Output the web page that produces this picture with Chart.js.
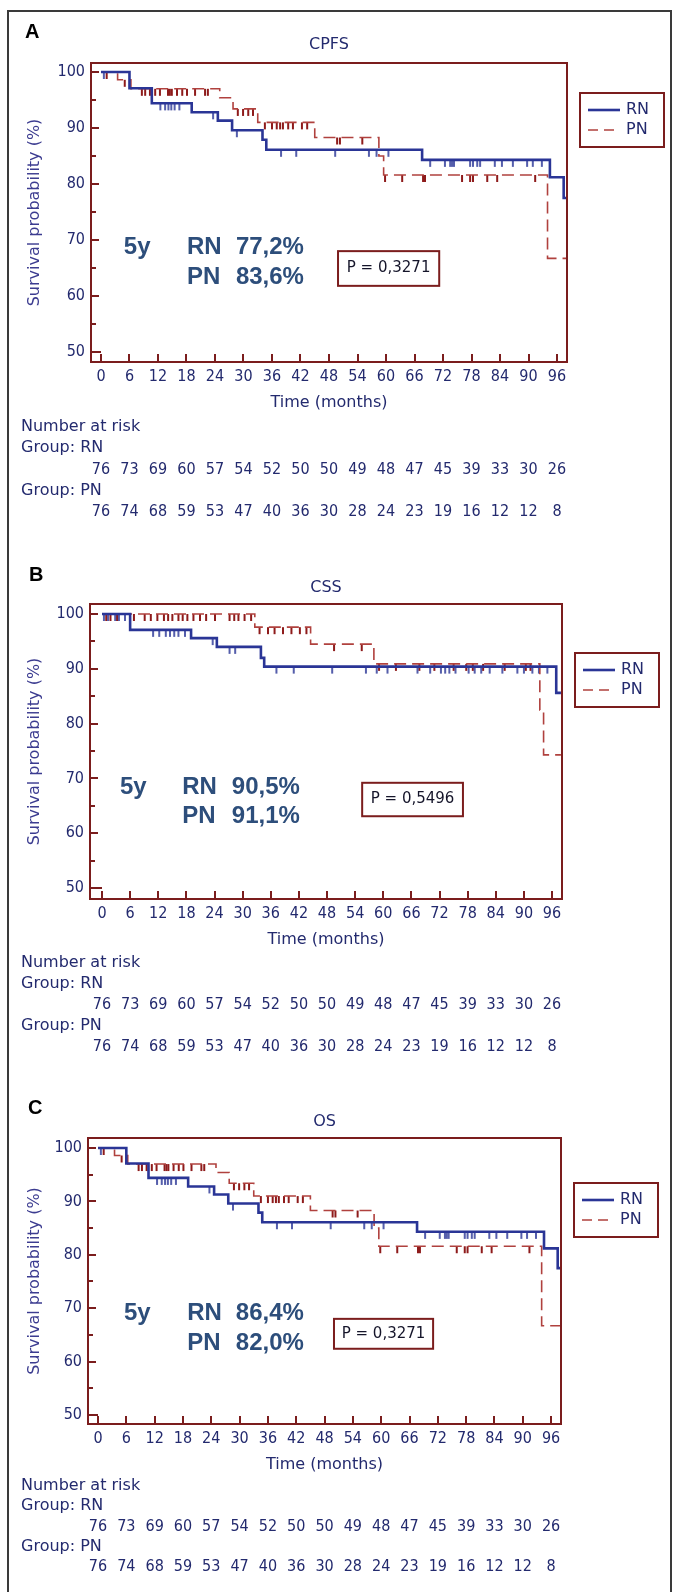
<!DOCTYPE html>
<html>
<head>
<meta charset="utf-8">
<script src="https://cdn.jsdelivr.net/npm/chart.js@4.4.1/dist/chart.umd.min.js"></script>
<style>
  html, body { margin: 0; padding: 0; background: #fff; }
  body { width: 673px; height: 1592px; position: relative; overflow: hidden; }
  #frame { position: absolute; left: 7px; top: 10px; width: 665px; height: 1620px; border: 2px solid #3a3a3a; box-sizing: border-box; }
  canvas { position: absolute; left: 0; }
</style>
</head>
<body>
<div id="frame"></div>
<canvas id="chartA" width="673" height="540" style="top:0px"></canvas>
<canvas id="chartB" width="673" height="535" style="top:540px"></canvas>
<canvas id="chartC" width="673" height="517" style="top:1075px"></canvas>
<script>
// axis ticks
const monthTicks = [0, 6, 12, 18, 24, 30, 36, 42, 48, 54, 60, 66, 72, 78, 84, 90, 96];
const pctTicks = [50, 60, 70, 80, 90, 100];
const pctMinor = [55, 65, 75, 85, 95];

// number at risk (same table under every panel)
const riskRn = [76, 73, 69, 60, 57, 54, 52, 50, 50, 49, 48, 47, 45, 39, 33, 30, 26];
const riskPn = [76, 74, 68, 59, 53, 47, 40, 36, 30, 28, 24, 23, 19, 16, 12, 12, 8];

// CPFS: step times (months) and survival after each step, censored times
const cpfsRnTime = [0, 6, 10.7, 19.1, 24.6, 27.6, 34.0, 34.8, 67.6, 94.5, 97.4, 97.9];
const cpfsRnSurv = [100, 97.1, 94.4, 92.8, 91.3, 89.6, 87.9, 86.1, 84.3, 81.2, 77.5, 77.5];
const cpfsRnCens = [0.6, 12.5, 13.5, 14.2, 14.8, 15.5, 16.5, 23.6, 28.6, 37.9, 41.1, 49.3, 56.4, 58.0, 60.5,
  69.3, 72.4, 73.5, 73.9, 74.3, 77.7, 78.3, 79.2, 79.8, 82.9, 84.4, 86.7, 89.7, 90.9, 92.8];
const cpfsPnTime = [0, 3.5, 6.3, 25.0, 27.8, 33.0, 45.0, 58.5, 59.5, 94.0, 97.9];
const cpfsPnSurv = [100, 98.6, 97.0, 95.4, 93.4, 91.0, 88.3, 85.0, 81.6, 66.7, 66.7];
const cpfsPnCens = [1.2, 5.0, 8.6, 9.3, 10.3, 11.4, 12.4, 14.1, 14.5, 14.9, 16.0, 17.1, 18.1, 19.8, 21.9, 22.5,
  28.8, 29.9, 31.0, 32.0, 34.5, 36.0, 37.0, 37.7, 38.3, 39.4, 40.4, 42.3, 43.4, 49.7, 50.3, 55.0,
  59.8, 63.4, 67.8, 68.2, 76.0, 77.7, 78.3, 81.3, 83.4, 91.4];

// CSS
const cssRnTime = [0, 6, 19, 24.5, 33.9, 34.6, 96.9, 97.9];
const cssRnSurv = [100, 97.1, 95.6, 94.0, 92.0, 90.4, 85.6, 85.6];
const cssRnCens = [0.4, 1.3, 2.8, 3.6, 4.9, 10.9, 12.2, 13.6, 14.5, 15.4, 16.3, 17.7, 23.6, 27.2, 28.4,
  37.2, 40.9, 49.1, 56.3, 58.6, 60.9, 67.3, 70.0, 72.3, 73.2, 74.1, 75.4, 78.2, 79.5, 80.9, 82.7,
  85.4, 88.6, 90.0, 91.8, 93.2, 95.0];
const cssPnTime = [0, 32.6, 44.5, 58, 93.4, 94.2, 97.9];
const cssPnSurv = [100, 97.6, 94.5, 90.9, 82.5, 74.3, 74.3];
const cssPnCens = [0.9, 1.8, 3.2, 6.8, 9.1, 10.4, 11.8, 13.2, 14.1, 15.0, 16.3, 17.2, 18.2, 19.5, 20.9, 22.2,
  24.1, 27.2, 28.2, 29.1, 30.4, 31.8, 33.6, 35.4, 36.8, 38.6, 40.4, 42.2, 43.6, 49.5, 55.4,
  59.1, 62.7, 67.7, 70.9, 75.0, 77.7, 79.1, 81.3, 85.9, 90.4, 91.4];

// OS curves look the same as CPFS in the source figure
const osRnTime = cpfsRnTime, osRnSurv = cpfsRnSurv, osRnCens = cpfsRnCens;
const osPnTime = cpfsPnTime, osPnSurv = cpfsPnSurv, osPnCens = cpfsPnCens;

const FONT = "'DejaVu Sans', sans-serif";
const NUM_FONT = "'DejaVu Sans Condensed', 'DejaVu Sans', sans-serif";
const BLUE = '#2a3596';
const PN_RED = '#b0413e';
const CENS_RED = '#8e1b1b';
const FRAME = '#7b1d1d';
const NAVY = '#232a6e';
const FIVE = '#2d4e7b';

const panels = [
  { id: 'chartA', letter: 'A', title: 'CPFS', pText: 'P = 0,3271', rn5: '77,2%', pn5: '83,6%',
    area: {left: 91, right: 567, top: 63, bottom: 362}, xMin: -2.1, xMax: 98.1, yMin: 48.2, yMax: 101.6,
    letterPos: [25, 32], titleGap: 18, legendTop: 30, riskTop: 65, riskGap: 21.2,
    fiveY: {c0: 4.8, c1: 18.1, c2: 28.4, r1: 68.6, r2: 63.4}, pBox: {x0: 49.9, x1: 71.2, y0: 68.0, y1: 61.8},
    rn: [cpfsRnTime, cpfsRnSurv, cpfsRnCens], pn: [cpfsPnTime, cpfsPnSurv, cpfsPnCens] },
  { id: 'chartB', letter: 'B', title: 'CSS', pText: 'P = 0,5496', rn5: '90,5%', pn5: '91,1%',
    area: {left: 90, right: 562, top: 64, bottom: 359}, xMin: -2.56, xMax: 98.13, yMin: 48.0, yMax: 101.82,
    letterPos: [29, 35], titleGap: 16, legendTop: 49, riskTop: 64, riskGap: 21,
    fiveY: {c0: 3.84, c1: 17.1, c2: 27.7, r1: 68.4, r2: 63.0}, pBox: {x0: 55.5, x1: 77.0, y0: 69.2, y1: 63.1},
    rn: [cssRnTime, cssRnSurv, cssRnCens], pn: [cssPnTime, cssPnSurv, cssPnCens] },
  { id: 'chartC', letter: 'C', title: 'OS', pText: 'P = 0,3271', rn5: '86,4%', pn5: '82,0%',
    area: {left: 88, right: 561, top: 63, bottom: 349}, xMin: -2.12, xMax: 98.1, yMin: 48.31, yMax: 101.87,
    letterPos: [28, 33], titleGap: 16, legendTop: 45, riskTop: 62, riskGap: 20.2,
    fiveY: {c0: 5.5, c1: 18.9, c2: 29.2, r1: 69.1, r2: 63.5}, pBox: {x0: 50.0, x1: 71.0, y0: 68.0, y1: 62.4},
    rn: [osRnTime, osRnSurv, osRnCens], pn: [osPnTime, osPnSurv, osPnCens] }
];

function survAt(times, surv, t) {
  let s = surv[0];
  times.forEach((tt, i) => { if (tt <= t) s = surv[i]; });
  return s;
}
const stepPoints = (times, surv) => times.map((t, i) => ({x: t, y: surv[i]}));
const censPoints = (cens, times, surv) => cens.map(t => ({x: t, y: survAt(times, surv, t)}));

// censor mark: short vertical tick hanging below the curve
function tickMark(color, w) {
  const c = document.createElement('canvas');
  c.width = 4; c.height = 16;
  const g = c.getContext('2d');
  g.strokeStyle = color; g.lineWidth = w;
  g.beginPath(); g.moveTo(2, 8); g.lineTo(2, 15); g.stroke();
  return c;
}

function line(ctx, x0, y0, x1, y1) {
  ctx.beginPath(); ctx.moveTo(x0, y0); ctx.lineTo(x1, y1); ctx.stroke();
}

function panelPlugin(p) {
  return {
    id: 'panel' + p.letter,
    afterDraw(chart) {
      const {ctx, chartArea: a, scales: {x, y}} = chart;
      ctx.save();
      // inward ticks
      ctx.strokeStyle = FRAME; ctx.lineWidth = 2;
      monthTicks.forEach(t => {
        const px = Math.round(x.getPixelForValue(t));
        line(ctx, px, a.bottom, px, a.bottom - 8);
      });
      pctTicks.forEach(v => {
        const py = Math.round(y.getPixelForValue(v));
        const len = v === 50 ? x.getPixelForValue(0) - a.left : 8;
        line(ctx, a.left, py, a.left + len, py);
      });
      pctMinor.forEach(v => {
        const py = Math.round(y.getPixelForValue(v));
        line(ctx, a.left, py, a.left + 5, py);
      });
      ctx.strokeRect(a.left, a.top, a.right - a.left, a.bottom - a.top);

      // panel letter + title
      ctx.fillStyle = '#000';
      ctx.font = "bold 20px 'Liberation Sans', Arial, sans-serif";
      ctx.textBaseline = 'middle'; ctx.textAlign = 'left';
      ctx.fillText(p.letter, p.letterPos[0], p.letterPos[1]);
      ctx.fillStyle = NAVY;
      ctx.font = '16px ' + FONT;
      ctx.textAlign = 'center';
      ctx.fillText(p.title, (a.left + a.right) / 2, a.top - p.titleGap);

      // legend box
      const lx = a.right + 13, ly = a.top + p.legendTop;
      ctx.strokeStyle = FRAME; ctx.lineWidth = 2;
      ctx.strokeRect(lx, ly, 84, 54);
      ctx.strokeStyle = BLUE; ctx.lineWidth = 2.6;
      line(ctx, lx + 8, ly + 17, lx + 40, ly + 17);
      ctx.strokeStyle = PN_RED; ctx.lineWidth = 1.6; ctx.setLineDash([10, 6]);
      line(ctx, lx + 8, ly + 37, lx + 40, ly + 37);
      ctx.setLineDash([]);
      ctx.fillStyle = NAVY; ctx.font = '16px ' + FONT; ctx.textAlign = 'left';
      ctx.fillText('RN', lx + 46, ly + 17);
      ctx.fillText('PN', lx + 46, ly + 37);

      // 5-year estimates
      const f = p.fiveY;
      ctx.fillStyle = FIVE;
      ctx.font = "bold 24px 'Liberation Sans', Arial, sans-serif";
      const r1 = y.getPixelForValue(f.r1), r2 = y.getPixelForValue(f.r2);
      ctx.fillText('5y', x.getPixelForValue(f.c0), r1);
      ctx.fillText('RN', x.getPixelForValue(f.c1), r1);
      ctx.fillText(p.rn5, x.getPixelForValue(f.c2), r1);
      ctx.fillText('PN', x.getPixelForValue(f.c1), r2);
      ctx.fillText(p.pn5, x.getPixelForValue(f.c2), r2);

      // p-value box
      const bx0 = x.getPixelForValue(p.pBox.x0), bx1 = x.getPixelForValue(p.pBox.x1);
      const by0 = y.getPixelForValue(p.pBox.y0), by1 = y.getPixelForValue(p.pBox.y1);
      ctx.strokeStyle = FRAME; ctx.lineWidth = 2;
      ctx.strokeRect(bx0, by0, bx1 - bx0, by1 - by0);
      ctx.fillStyle = '#15152a'; ctx.font = '15px ' + FONT; ctx.textAlign = 'center';
      ctx.fillText(p.pText, (bx0 + bx1) / 2, (by0 + by1) / 2);

      // number at risk table
      const rowY = k => a.bottom + p.riskTop + k * p.riskGap;
      ctx.fillStyle = NAVY; ctx.textAlign = 'left'; ctx.font = '16px ' + FONT;
      ctx.fillText('Number at risk', 21, rowY(0));
      ctx.fillText('Group: RN', 21, rowY(1));
      ctx.fillText('Group: PN', 21, rowY(3));
      ctx.textAlign = 'center'; ctx.font = '16px ' + NUM_FONT;
      monthTicks.forEach((t, i) => {
        const px = x.getPixelForValue(t);
        ctx.fillText(String(riskRn[i]), px, rowY(2));
        ctx.fillText(String(riskPn[i]), px, rowY(4));
      });
      ctx.restore();
    }
  };
}

panels.forEach(p => {
  const cv = document.getElementById(p.id);
  new Chart(cv, {
    type: 'line',
    data: {
      datasets: [
        { data: stepPoints(p.rn[0], p.rn[1]), borderColor: BLUE, borderWidth: 2.6, stepped: true, pointRadius: 0, fill: false },
        { data: stepPoints(p.pn[0], p.pn[1]), borderColor: PN_RED, borderWidth: 1.6, borderDash: [12, 6], stepped: true, pointRadius: 0, fill: false },
        { data: censPoints(p.rn[2], p.rn[0], p.rn[1]), showLine: false, pointStyle: tickMark(BLUE, 1.6), pointRadius: 3 },
        { data: censPoints(p.pn[2], p.pn[0], p.pn[1]), showLine: false, pointStyle: tickMark(CENS_RED, 2), pointRadius: 3 }
      ]
    },
    options: {
      responsive: false,
      animation: false,
      devicePixelRatio: 1,
      layout: { padding: { left: 0, top: p.area.top, right: 673 - p.area.right, bottom: cv.height - p.area.bottom - 52 } },
      plugins: { legend: { display: false }, tooltip: { enabled: false } },
      scales: {
        x: {
          type: 'linear', min: p.xMin, max: p.xMax,
          afterBuildTicks: s => { s.ticks = monthTicks.map(v => ({value: v})); },
          afterFit: s => { s.height = 52; },
          grid: { display: false, drawTicks: false },
          border: { display: false },
          ticks: { color: NAVY, font: { family: NUM_FONT, size: 16 }, padding: 5, maxRotation: 0, autoSkip: false },
          title: { display: true, text: 'Time (months)', color: NAVY, font: { family: FONT, size: 16 }, padding: { top: 0, bottom: 2 } }
        },
        y: {
          type: 'linear', min: p.yMin, max: p.yMax,
          afterBuildTicks: s => { s.ticks = pctTicks.map(v => ({value: v})); },
          afterFit: s => { s.width = p.area.left; },
          grid: { display: false, drawTicks: false },
          border: { display: false },
          ticks: { color: NAVY, font: { family: NUM_FONT, size: 16 }, padding: 6 },
          title: { display: true, text: 'Survival probability (%)', color: '#3c3c90', font: { family: FONT, size: 16 }, padding: { top: 25, bottom: 0 } }
        }
      }
    },
    plugins: [panelPlugin(p)]
  });
});
</script>
</body>
</html>
